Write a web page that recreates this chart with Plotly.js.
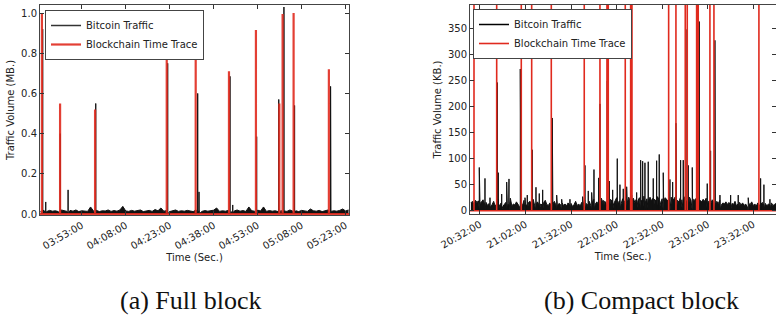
<!DOCTYPE html>
<html><head><meta charset="utf-8">
<script src="https://cdn.plot.ly/plotly-3.0.1.min.js"></script>
<style>html,body{margin:0;padding:0;background:#fff}#chart{width:776px;height:324px}</style>
</head><body><div id="chart"></div>
<script>
// ---------- (a) Full block : values in MB ----------
const fullRange = ['03:38:45', '05:24:10'];
const fullTickLabels = ['03:53:00','04:08:00','04:23:00','04:38:00','04:53:00','05:08:00','05:23:00'];
const fullYTicks = [0, 0.2, 0.4, 0.6, 0.8, 1.0];
const fullNoiseStart = '03:39:00'; // one sample per minute
const fullNoise = [
 0.015,0.02,0.012,0.018,0.014,0.016,0.012,0.02,0.015,0.013,
 0.018,0.014,0.02,0.012,0.016,0.015,0.013,0.035,0.014,0.018,
 0.012,0.016,0.015,0.02,0.013,0.017,0.014,0.02,0.038,0.015,
 0.013,0.018,0.014,0.016,0.02,0.012,0.015,0.018,0.013,0.022,
 0.016,0.03,0.014,0.017,0.012,0.015,0.02,0.013,0.016,0.014,
 0.018,0.015,0.012,0.02,0.016,0.013,0.017,0.014,0.015,0.019,
 0.03,0.013,0.016,0.014,0.018,0.012,0.015,0.02,0.014,0.017,
 0.013,0.035,0.016,0.014,0.019,0.015,0.035,0.013,0.017,0.014,
 0.016,0.012,0.018,0.015,0.013,0.02,0.014,0.016,0.012,0.018,
 0.015,0.013,0.025,0.016,0.014,0.018,0.012,0.015,0.02,0.013,
 0.016,0.014,0.018,0.025,0.015,0.02];
const fullSpikeTimes = ['03:39:40','03:40:42','03:45:40','03:48:20','03:57:46','04:22:19','04:32:33','04:33:00',
 '04:43:34','04:43:45','04:44:30','04:52:40','05:00:12','05:01:58','05:05:36','05:17:53'];
const fullSpikeValues = [0.92,0.06,0.40,0.12,0.55,0.75,0.60,0.11,0.685,0.07,0.045,0.385,0.57,1.03,0.54,0.635];
const fullBlockTimes = ['03:39:24','03:45:36','03:57:32','04:21:59','04:31:52','04:43:13','04:52:25','05:00:24','05:01:31','05:05:16','05:17:18'];
const fullBlockValues = [1.0,0.55,0.52,0.9,0.93,0.71,0.915,0.55,0.995,1.0,0.72];

// ---------- (b) Compact block : values in KB ----------
const compactRange = ['20:25:25', '23:47:00'];
const compactTickLabels = ['20:32:00','21:02:00','21:32:00','22:02:00','22:32:00','23:02:00','23:32:00'];
const compactYTicks = [0, 50, 100, 150, 200, 250, 300, 350];
const compactNoiseStart = '20:26:00'; // one sample per minute
const compactNoise = [
 15,18,12,20,16,19,14,17,21,13,16,
 10,14,8,12,18,9,13,22,11,15,8,12,16,10,14,24,9,13,11,17,
 12,8,15,10,20,13,9,16,18,12,22,10,14,17,9,13,11,16,20,12,
 10,15,9,13,18,11,8,14,12,16,10,13,9,15,11,14,8,12,18,10,
 13,9,16,12,20,14,11,18,10,15,22,13,17,12,19,24,14,18,16,20,
 15,22,18,13,20,25,16,19,14,23,17,21,15,26,18,20,24,16,22,19,
 25,18,21,28,17,23,20,26,19,24,22,18,27,20,16,23,19,25,21,18,
 22,26,19,24,28,20,17,25,21,23,27,18,22,26,20,24,19,23,21,25,
 20,17,22,18,24,15,19,13,21,16,12,18,14,20,11,15,13,17,12,16,
 10,14,12,18,9,13,16,11,15,10,13,8,14,12,17,10,13,9,15,11,
 12,16,10,14,9,13,11,15,10,12,14];
const compactSpikeTimes = ['20:31:32','20:35:17','20:38:35','20:43:23','20:44:03','20:46:17','20:49:35','20:51:06',
 '20:58:32','21:01:38','21:03:09','21:06:26','21:08:53','21:11:03','21:13:17','21:19:37','21:22:31','21:25:49',
 '21:31:16','21:39:38','21:41:09','21:43:20','21:45:34','21:47:05','21:50:11','21:51:02','21:53:12','21:55:50',
 '21:57:10','21:59:24','22:02:26','22:04:12','22:06:23','22:08:37','22:11:55','22:15:12','22:17:50','22:19:09',
 '22:20:40','22:22:50','22:26:08','22:28:22','22:30:05','22:32:43','22:37:08','22:38:55','22:41:05','22:41:32',
 '22:44:10','22:45:54','22:47:40','22:49:11','22:51:50','22:56:26','23:01:42','23:03:55','23:06:46','23:10:04',
 '23:17:07','23:22:07','23:28:42','23:36:52','23:39:02','23:43:00'];
const compactSpikeValues = [83,62,25,246,73,32,55,61,
 272,25,30,117,45,33,40,178,30,22,
 22,27,87,38,35,79,63,205,20,249,
 57,40,100,50,42,46,30,35,97,95,
 92,94,62,96,108,73,60,55,168,77,
 97,97,348,87,83,363,52,115,327,30,
 30,30,25,62,50,22];
const compactBlockTimes = ['20:28:03','20:43:00','20:59:12','21:06:03','21:18:58','21:40:41','21:51:02','21:55:38',
 '21:56:30','22:07:42','22:11:15','22:12:07','22:36:17','22:41:05','22:47:13','22:48:32','22:54:43','22:55:46',
 '23:03:28','23:06:07','23:35:45'];
const compactBlockValues = [400,400,400,400,400,400,400,400,400,400,400,400,400,400,400,400,400,400,400,400,400];

// ---------- helpers ----------
function sec(s){ const p = s.split(':').map(Number); return p[0]*3600 + p[1]*60 + p[2]; }
function trafficSeries(start, noise, times, vals){
  const pts = [];
  noise.forEach((v,i) => pts.push([sec(start) + 60*i, 0, v]));
  times.forEach((t,i) => { const s = sec(t); pts.push([s,1,0],[s,2,vals[i]],[s,3,0]); });
  pts.sort((a,b) => a[0]-b[0] || a[1]-b[1]);
  return {x: pts.map(p=>p[0]), y: pts.map(p=>p[2])};
}
function blockSeries(range, times, vals){
  const x = [sec(range[0])], y = [0];
  times.forEach((t,i) => { const s = sec(t); x.push(s,s,s); y.push(0, vals[i], 0); });
  x.push(sec(range[1])); y.push(0);
  return {x, y};
}

const FONT = 'DejaVu Sans, sans-serif';
const RED = '#e02a1e';

const fT = trafficSeries(fullNoiseStart, fullNoise, fullSpikeTimes, fullSpikeValues);
const fB = blockSeries(fullRange, fullBlockTimes, fullBlockValues);
const cT = trafficSeries(compactNoiseStart, compactNoise, compactSpikeTimes, compactSpikeValues);
const cB = blockSeries(compactRange, compactBlockTimes, compactBlockValues);

const data = [
  {x:[null], y:[null], mode:'lines', name:'Bitcoin Traffic', line:{color:'#333', width:1.5}, xaxis:'x', yaxis:'y', legend:'legend'},
  {x:fT.x, y:fT.y, mode:'lines', fill:'tozeroy', fillcolor:'#111', line:{color:'#111', width:1}, showlegend:false, xaxis:'x', yaxis:'y', hoverinfo:'skip'},
  {x:fB.x, y:fB.y, mode:'lines', name:'Blockchain Time Trace', line:{color:RED, width:2.2}, xaxis:'x', yaxis:'y', legend:'legend', opacity:0.9},
  {x:[null], y:[null], mode:'lines', name:'Bitcoin Traffic', line:{color:'#000', width:1.5}, xaxis:'x2', yaxis:'y2', legend:'legend2'},
  {x:cT.x, y:cT.y, mode:'lines', fill:'tozeroy', fillcolor:'#111', line:{color:'#111', width:1}, showlegend:false, xaxis:'x2', yaxis:'y2', hoverinfo:'skip'},
  {x:cB.x, y:cB.y, mode:'lines', name:'Blockchain Time Trace', line:{color:RED, width:1.6}, xaxis:'x2', yaxis:'y2', legend:'legend2'}
];

function xAxis(domain, range, labels, anchor){
  return {domain, range: range.map(sec), anchor, tickvals: labels.map(sec), ticktext: labels,
    tickangle:-30, ticks:'inside', ticklen:4, tickcolor:'#333', mirror:'ticks', showline:true, linecolor:'#444', linewidth:1,
    showgrid:false, zeroline:false, tickfont:{family:FONT, size:10, color:'#222'},
    title:{text:'Time (Sec.)', font:{family:FONT, size:10, color:'#222'}, standoff:2}};
}
function yAxis(domain, range, ticks, digits, title, anchor){
  return {domain, range, anchor, tickvals: ticks, ticktext: ticks.map(v => v.toFixed(digits)),
    ticks:'inside', ticklen:4, tickcolor:'#333', mirror:'ticks', showline:true, linecolor:'#444', linewidth:1,
    showgrid:false, zeroline:false, tickfont:{family:FONT, size:10, color:'#222'},
    title:{text:title, font:{family:FONT, size:10, color:'#222'}, standoff:4}};
}

const W = 776, H = 324;
const layout = {
  width:W, height:H, margin:{l:0, r:0, t:0, b:0}, paper_bgcolor:'#fff', plot_bgcolor:'#fff',
  font:{family:FONT, size:10, color:'#222'},
  xaxis: xAxis([40/W, 349/W], fullRange, fullTickLabels, 'y'),
  yaxis: yAxis([1-215/H, 1-5/H], [-0.005, 1.04], fullYTicks, 1, 'Traffic Volume (MB.)', 'x'),
  xaxis2: xAxis([470/W, 1], compactRange, compactTickLabels, 'y2'),
  yaxis2: yAxis([1-214/H, 1-5/H], [-6.3, 394.8], compactYTicks, 0, 'Traffic Volume (KB.)', 'x2'),
  legend: {x:45/W, y:1-10/H, xanchor:'left', yanchor:'top', bgcolor:'#fff', bordercolor:'#444', borderwidth:1,
    font:{family:FONT, size:10, color:'#222'}, tracegroupgap:0, itemwidth:30},
  legend2: {x:473/W, y:1-9/H, xanchor:'left', yanchor:'top', bgcolor:'#fff', bordercolor:'#444', borderwidth:1,
    font:{family:FONT, size:10, color:'#222'}, tracegroupgap:0, itemwidth:30},
  showlegend:true,
  annotations: [
    {text:'(a) Full block', x:191/W, y:1-300/H, xref:'paper', yref:'paper', xanchor:'center', yanchor:'middle', showarrow:false,
     font:{family:'Liberation Serif, serif', size:26, color:'#111'}},
    {text:'(b) Compact block', x:641/W, y:1-300/H, xref:'paper', yref:'paper', xanchor:'center', yanchor:'middle', showarrow:false,
     font:{family:'Liberation Serif, serif', size:26, color:'#111'}}
  ]
};

Plotly.newPlot('chart', data, layout, {staticPlot:true, displayModeBar:false});
</script>
</body></html>
